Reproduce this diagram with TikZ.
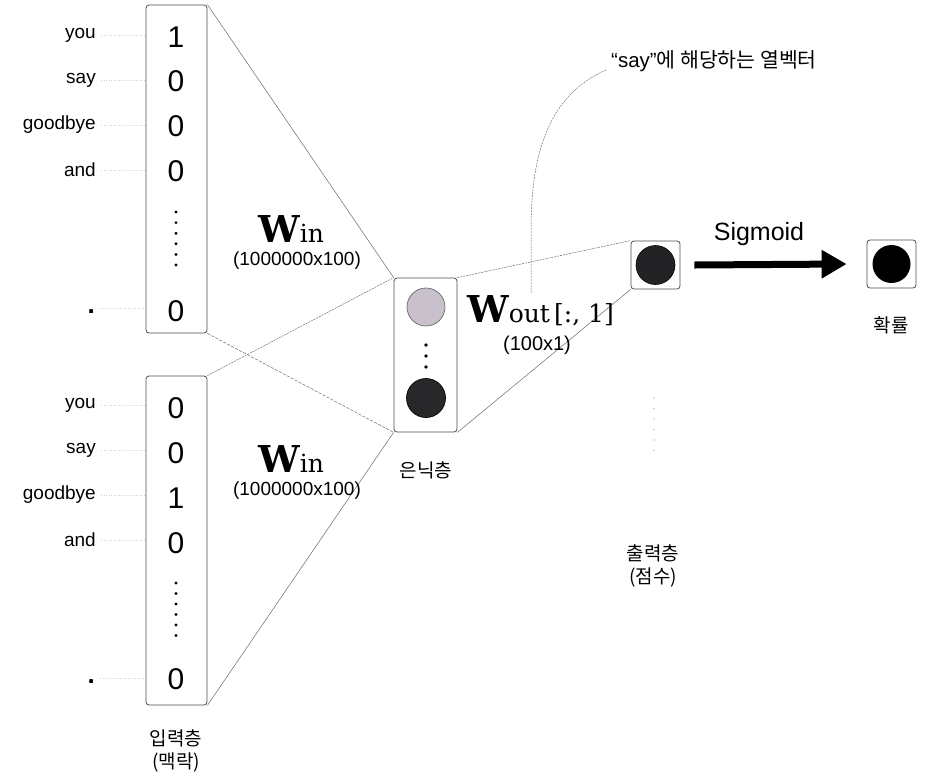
\documentclass[tikz,border=0pt]{standalone}
\usepackage{fontspec}
\setmainfont{Liberation Sans}
\newfontfamily\kr{Noto Sans CJK KR}
\newfontfamily\dserif{DejaVu Serif}
\usetikzlibrary{arrows.meta,calc}
\begin{document}
\begin{tikzpicture}[x=1pt,y=-1pt,
  vecbox/.style={draw=black!70,line width=0.8pt,rounded corners=3pt,inner sep=0pt},
  digit/.style={font=\fontsize{30}{30}\selectfont,inner sep=0pt},
  word/.style={font=\fontsize{19}{19}\selectfont,anchor=east,inner sep=1pt},
  dotword/.style={font=\bfseries\fontsize{26}{26}\selectfont,anchor=base east,inner sep=1pt},
  lead/.style={draw=black!18,line width=0.5pt,dash pattern=on 1pt off 1.5pt},
  conn/.style={draw=black!55,line width=0.55pt},
  krlab/.style={font=\kr\fontsize{19}{23}\selectfont,align=center,inner sep=0pt},
  dims/.style={font=\fontsize{19}{19}\selectfont,inner sep=0pt,text depth=0pt},
  wlab/.style={anchor=base west,inner sep=0pt,text depth=0pt},
  vdot/.style={circle,fill=black,inner sep=0pt,minimum size=3.2pt}]
\useasboundingbox (0,0) rectangle (929,780);

% ---------- input boxes ----------
\node[vecbox,minimum width=61pt,minimum height=328pt] (inbox1) at (176.5,169) {};
\node[vecbox,minimum width=61pt,minimum height=329pt] (inbox2) at (176.5,540.5) {};

% top vector
\node[digit] (a1) at (176,37) {1};
\node[digit] (a2) at (176,81) {0};
\node[digit] (a3) at (176,126) {0};
\node[digit] (a4) at (176,171) {0};
\node[digit] (a6) at (176,311) {0};
\foreach \k in {0,...,5} \node[vdot] at (176,{212+\k*10.6}) {};

% bottom vector
\node[digit] (b1) at (176,408) {0};
\node[digit] (b2) at (176,453) {0};
\node[digit] (b3) at (176,498) {1};
\node[digit] (b4) at (176,543) {0};
\node[digit] (b6) at (176,679) {0};
\foreach \k in {0,...,5} \node[vdot] at (176,{583+\k*10.5}) {};

% words (top)
\node[word] (wa1) at (97,35) {you};
\node[word] (wa2) at (97,80) {say};
\node[word] (wa3) at (97,125) {goodbye};
\node[word] (wa4) at (97,170) {and};
\node[dotword] (wa6) at (96,313) {.};
% words (bottom)
\node[word] (wb1) at (97,405) {you};
\node[word] (wb2) at (97,450) {say};
\node[word] (wb3) at (97,495) {goodbye};
\node[word] (wb4) at (97,540) {and};
\node[dotword] (wb6) at (96,683) {.};

\foreach \w in {wa1,wa2,wa3,wa4,wb1,wb2,wb3,wb4}
  \draw[lead] ([xshift=4pt]\w.east) -- (\w.east -| inbox1.west);
\foreach \w in {wa6,wb6}
  \draw[lead] ([xshift=4pt,yshift=5pt]\w.base east) -- ([yshift=5pt]\w.base east -| inbox1.west);

% ---------- hidden layer ----------
\node[vecbox,minimum width=63pt,minimum height=154pt] (hidbox) at (425.5,355) {};
\node[circle,draw=black!60,line width=0.7pt,fill={rgb,255:red,200;green,193;blue,203},minimum size=38pt,inner sep=0pt] (h1) at (426,307) {};
\node[circle,draw=black,line width=0.7pt,fill={rgb,255:red,40;green,40;blue,42},minimum size=39pt,inner sep=0pt] (h2) at (426,398) {};
\foreach \yy in {345,356,367} \node[vdot,minimum size=3.6pt] at (426,\yy) {};

% ---------- output layer ----------
\node[vecbox,minimum width=49pt,minimum height=48pt] (outbox) at (655.5,265) {};
\node[circle,draw=black,line width=0.6pt,fill={rgb,255:red,35;green,35;blue,37},minimum size=39pt,inner sep=0pt] (o1) at (655.5,265) {};
\foreach \k in {0,...,5} \node[circle,fill=black!22,inner sep=0pt,minimum size=1.6pt] at (654,{398+\k*10.5}) {};

% ---------- probability ----------
\node[vecbox,minimum width=49pt,minimum height=48pt] (probbox) at (891.5,264) {};
\node[circle,fill=black,minimum size=38pt,inner sep=0pt] (p1) at (891.5,264) {};

\draw[line width=7pt,-{Triangle[length=25pt,width=27pt]}] ([xshift=14pt]outbox.east) -- ([xshift=-20pt]probbox.west);
\node[font=\fontsize{25}{25}\selectfont,inner sep=0pt] (sig) at (759,234) {Sigmoid};

% ---------- connectors ----------
\draw[conn] (inbox1.north east) -- (hidbox.north west);
\draw[conn,dash pattern=on 3pt off 1.5pt] (inbox1.south east) -- (hidbox.south west);
\draw[conn,dash pattern=on 2pt off 1pt] (inbox2.north east) -- (hidbox.north west);
\draw[conn] (inbox2.south east) -- (hidbox.south west);
\draw[conn,dash pattern=on 2pt off 1pt] (hidbox.north east) -- (outbox.north west);
\draw[conn] (hidbox.south east) -- (outbox.south west);

% ---------- weight labels ----------
\node[wlab] (win1) at (258,242) {{\dserif\bfseries\fontsize{37}{37}\selectfont W}{\dserif\fontsize{25}{25}\selectfont in}};
\node[dims] (win1d) at (297,259) {(1000000x100)};
\node[wlab] (win2) at (258,472) {{\dserif\bfseries\fontsize{37}{37}\selectfont W}{\dserif\fontsize{25}{25}\selectfont in}};
\node[dims] (win2d) at (297,489) {(1000000x100)};
\node[wlab] (wout) at (467,322) {{\dserif\bfseries\fontsize{37}{37}\selectfont W}{\dserif\fontsize{25}{25}\selectfont out\,[:, 1]}};
\node[dims,font=\fontsize{20}{20}\selectfont] (woutd) at (537,343) {(100x1)};

% ---------- callout ----------
\node[anchor=west,inner sep=0pt,font=\fontsize{20.5}{20.5}\selectfont] (saytext) at (611,61) {“say”{\kr 에 해당하는 열벡터}};
\coordinate (calloutend) at (531,293);
\draw[draw=black!55,line width=0.5pt,dash pattern=on 2pt off 1pt]
  ($(saytext.west)+(-5,9)$) .. controls (550,95) and (531,150) .. (531,230) -- (calloutend);

% ---------- layer labels ----------
\node[krlab] (lin) at (176,751) {입력층\\(맥락)};
\node[krlab] (lhid) at (426,470) {은닉층};
\node[krlab] (lout) at (653,566) {출력층\\(점수)};
\node[krlab] (lprob) at (891,325) {확률};
\end{tikzpicture}
\end{document}
